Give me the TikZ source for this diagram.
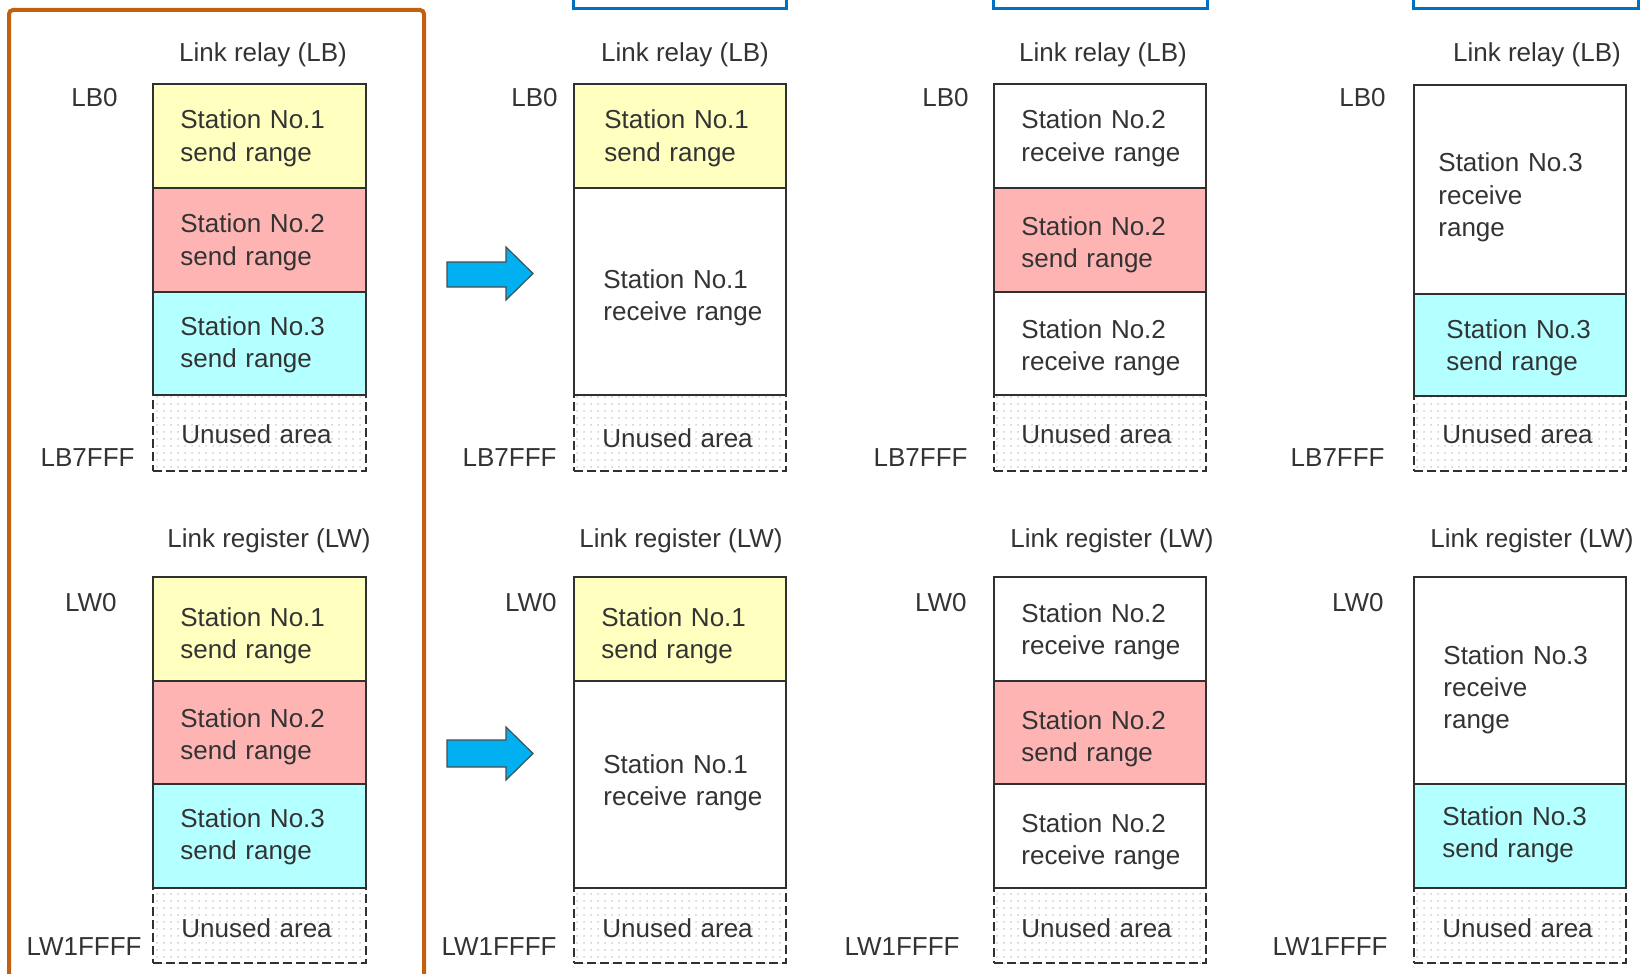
\documentclass[tikz,border=0pt]{standalone}
\usepackage{fontspec}
\setmainfont{Liberation Sans}
\usetikzlibrary{fit,patterns}
\definecolor{ink}{HTML}{333333}
\definecolor{edge}{HTML}{303030}
\definecolor{sendone}{HTML}{FFFFBF}
\definecolor{sendtwo}{HTML}{FFB4B4}
\definecolor{sendthree}{HTML}{B4FFFF}
\definecolor{dotc}{HTML}{C8C8C8}
\definecolor{framec}{HTML}{C2600F}
\definecolor{panelc}{HTML}{0070C0}
\definecolor{arrowc}{HTML}{00B0F0}
% a sparser dot fill for the unused areas
\pgfdeclarepatternformonly{sparsedots}{\pgfpointorigin}{\pgfpoint{3.5pt}{3.5pt}}{\pgfpoint{3.5pt}{3.5pt}}{%
  \pgfpathcircle{\pgfpoint{1.75pt}{1.75pt}}{0.55pt}\pgfusepath{fill}}
\tikzset{
  txt/.style={font=\fontsize{13pt}{16.2pt}\selectfont, text=ink, inner sep=0pt},
  head/.style={txt, anchor=base},
  addr/.style={txt, anchor=base east},
  celltxt/.style={txt, text width=100pt, align=left, anchor=base west},
  cell/.style={draw=edge, line width=1pt, inner sep=0pt},
  unused/.style={draw=edge, line width=1pt, dash pattern=on 4.5pt off 2pt,
                 pattern=sparsedots, pattern color=dotc, inner sep=0pt},
  bigarrow/.style={fill=arrowc, draw=black!70, line width=0.6pt, line join=miter},
  frame/.style={draw=framec, line width=2pt, rounded corners=2pt},
  panel/.style={draw=panelc, line width=1.5pt},
}
\begin{document}
\begin{tikzpicture}[x=0.5pt,y=-0.5pt]
\useasboundingbox (0,0) rectangle (1640,974);
\clip (0,0) rectangle (1640,974);

% frames around the panels
\draw[frame] (9,10) rectangle (424,1010);
\draw[panel] (573,-20) rectangle (786,9);
\draw[panel] (993,-20) rectangle (1207,9);
\draw[panel] (1413,-20) rectangle (1638,9);

% transition arrows
\draw[bigarrow] (447,262) -- (506,262) -- (506,247) -- (533,273.5) -- (506,300) -- (506,287) -- (447,287) -- cycle;
\draw[bigarrow] (447,740) -- (506,740) -- (506,727) -- (533,753.5) -- (506,780) -- (506,767) -- (447,767) -- cycle;

% ================= column 1 =================
\node[head] (h1a) at (263,62) {Link relay (LB)};
\node[addr] (a1s) at (118,107) {LB0};
\node[addr] (a1e) at (135,466) {LB7FFF};
\node[unused, fit={(153,395) (366,471)}] (u1a) {};
\node[cell, fill=sendone,   fit={(153,84) (366,188)}]  (c1a1) {};
\node[cell, fill=sendtwo,   fit={(153,188) (366,292)}] (c1a2) {};
\node[cell, fill=sendthree, fit={(153,292) (366,395)}] (c1a3) {};
\node[celltxt] (t1a1) at (180,129) {Station No.1\\send range};
\node[celltxt] (t1a2) at (180,233) {Station No.2\\send range};
\node[celltxt] (t1a3) at (180,335) {Station No.3\\send range};
\node[celltxt] (t1a4) at (181,443) {Unused area};

\node[head] (h1b) at (269,547) {Link register (LW)};
\node[addr] (b1s) at (117,611) {LW0};
\node[addr] (b1e) at (142,955) {LW1FFFF};
\node[unused, fit={(153,888) (366,963)}] (u1b) {};
\node[cell, fill=sendone,   fit={(153,577) (366,681)}] (c1b1) {};
\node[cell, fill=sendtwo,   fit={(153,681) (366,784)}] (c1b2) {};
\node[cell, fill=sendthree, fit={(153,784) (366,888)}] (c1b3) {};
\node[celltxt] (t1b1) at (180,626) {Station No.1\\send range};
\node[celltxt] (t1b2) at (180,727) {Station No.2\\send range};
\node[celltxt] (t1b3) at (180,827) {Station No.3\\send range};
\node[celltxt] (t1b4) at (181,937) {Unused area};

% ================= column 2 =================
\node[head] (h2a) at (685,62) {Link relay (LB)};
\node[addr] (a2s) at (558,107) {LB0};
\node[addr] (a2e) at (557,466) {LB7FFF};
\node[unused, fit={(574,395) (786,471)}] (u2a) {};
\node[cell, fill=sendone, fit={(574,84) (786,188)}]  (c2a1) {};
\node[cell, fill=white,   fit={(574,188) (786,395)}] (c2a2) {};
\node[celltxt] (t2a1) at (604,129) {Station No.1\\send range};
\node[celltxt] (t2a2) at (603,288) {Station No.1\\receive range};
\node[celltxt] (t2a3) at (602,447) {Unused area};

\node[head] (h2b) at (681,547) {Link register (LW)};
\node[addr] (b2s) at (557,611) {LW0};
\node[addr] (b2e) at (557,955) {LW1FFFF};
\node[unused, fit={(574,888) (786,963)}] (u2b) {};
\node[cell, fill=sendone, fit={(574,577) (786,681)}] (c2b1) {};
\node[cell, fill=white,   fit={(574,681) (786,888)}] (c2b2) {};
\node[celltxt] (t2b1) at (601,626) {Station No.1\\send range};
\node[celltxt] (t2b2) at (603,773) {Station No.1\\receive range};
\node[celltxt] (t2b3) at (602,937) {Unused area};

% ================= column 3 =================
\node[head] (h3a) at (1103,62) {Link relay (LB)};
\node[addr] (a3s) at (969,107) {LB0};
\node[addr] (a3e) at (968,466) {LB7FFF};
\node[unused, fit={(994,395) (1206,471)}] (u3a) {};
\node[cell, fill=white,   fit={(994,84) (1206,188)}]  (c3a1) {};
\node[cell, fill=sendtwo, fit={(994,188) (1206,292)}] (c3a2) {};
\node[cell, fill=white,   fit={(994,292) (1206,395)}] (c3a3) {};
\node[celltxt] (t3a1) at (1021,129) {Station No.2\\receive range};
\node[celltxt] (t3a2) at (1021,235) {Station No.2\\send range};
\node[celltxt] (t3a3) at (1021,338) {Station No.2\\receive range};
\node[celltxt] (t3a4) at (1021,443) {Unused area};

\node[head] (h3b) at (1112,547) {Link register (LW)};
\node[addr] (b3s) at (967,611) {LW0};
\node[addr] (b3e) at (960,955) {LW1FFFF};
\node[unused, fit={(994,888) (1206,963)}] (u3b) {};
\node[cell, fill=white,   fit={(994,577) (1206,681)}] (c3b1) {};
\node[cell, fill=sendtwo, fit={(994,681) (1206,784)}] (c3b2) {};
\node[cell, fill=white,   fit={(994,784) (1206,888)}] (c3b3) {};
\node[celltxt] (t3b1) at (1021,622) {Station No.2\\receive range};
\node[celltxt] (t3b2) at (1021,729) {Station No.2\\send range};
\node[celltxt] (t3b3) at (1021,832) {Station No.2\\receive range};
\node[celltxt] (t3b4) at (1021,937) {Unused area};

% ================= column 4 =================
\node[head] (h4a) at (1537,62) {Link relay (LB)};
\node[addr] (a4s) at (1386,107) {LB0};
\node[addr] (a4e) at (1385,466) {LB7FFF};
\node[unused, fit={(1414,396) (1626,471)}] (u4a) {};
\node[cell, fill=white,     fit={(1414,85) (1626,294)}]  (c4a1) {};
\node[cell, fill=sendthree, fit={(1414,294) (1626,396)}] (c4a2) {};
\node[celltxt] (t4a1) at (1438,172) {Station No.3\\receive\\range};
\node[celltxt] (t4a2) at (1446,338) {Station No.3\\send range};
\node[celltxt] (t4a3) at (1442,443) {Unused area};

\node[head] (h4b) at (1532,547) {Link register (LW)};
\node[addr] (b4s) at (1384,611) {LW0};
\node[addr] (b4e) at (1388,955) {LW1FFFF};
\node[unused, fit={(1414,888) (1626,963)}] (u4b) {};
\node[cell, fill=white,     fit={(1414,577) (1626,784)}] (c4b1) {};
\node[cell, fill=sendthree, fit={(1414,784) (1626,888)}] (c4b2) {};
\node[celltxt] (t4b1) at (1443,664) {Station No.3\\receive\\range};
\node[celltxt] (t4b2) at (1442,825) {Station No.3\\send range};
\node[celltxt] (t4b3) at (1442,937) {Unused area};
\end{tikzpicture}
\end{document}
